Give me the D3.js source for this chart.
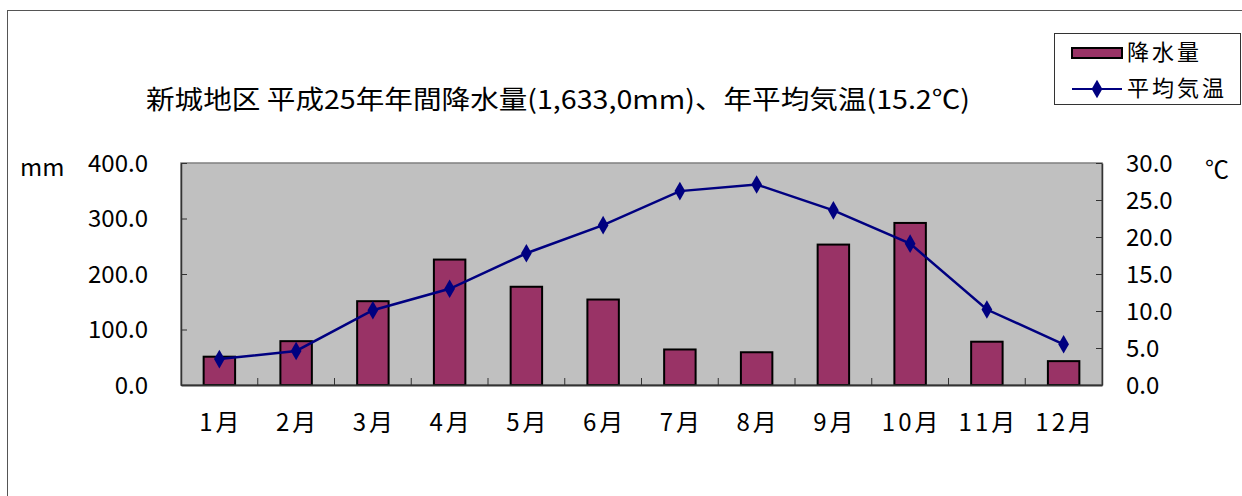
<!DOCTYPE html>
<html>
<head>
<meta charset="utf-8">
<script src="https://cdn.jsdelivr.net/npm/d3@7"></script>
<style>
  body { margin: 0; background: #fff; }
  text { font-family: "Noto Sans CJK JP", "Noto Sans", sans-serif; fill: #000; }
</style>
</head>
<body>
<div id="container"></div>
<script>
// 月
var months = ["1月","2月","3月","4月","5月","6月","7月","8月","9月","10月","11月","12月"];
// 降水量 (mm)
var rain = [51, 79, 151, 226, 177, 154, 64, 59, 253, 292, 78, 43];
// 平均気温 (℃)
var temp = [3.5, 4.6, 10.1, 13.0, 17.8, 21.6, 26.2, 27.1, 23.6, 19.1, 10.2, 5.5];
var rainTicks = [0, 100, 200, 300, 400];
var tempTicks = [0, 5, 10, 15, 20, 25, 30];
var title = "新城地区 平成25年年間降水量(1,633,0mm)、年平均気温(15.2℃)";

var W = 1242, H = 496;
var svg = d3.select("div#container").append("svg").attr("width", W).attr("height", H);

// 外枠
svg.append("rect")
   .attr("x", 7.5).attr("y", 10.5)
   .attr("width", W).attr("height", H)
   .attr("fill", "#fff").attr("stroke", "#555").attr("stroke-width", 1);

var plot = {left: 181, top: 163, right: 1102, bottom: 385};

var x = d3.scaleBand().domain(months).range([plot.left, plot.right]).paddingInner(0).paddingOuter(0);
var yL = d3.scaleLinear().domain([0, 400]).range([plot.bottom, plot.top]);
var yR = d3.scaleLinear().domain([0, 30]).range([plot.bottom, plot.top]);

// 背景
svg.append("rect")
   .attr("x", plot.left).attr("y", plot.top)
   .attr("width", plot.right - plot.left).attr("height", plot.bottom - plot.top)
   .attr("fill", "#c0c0c0")
   .attr("stroke", "#808080").attr("stroke-width", 1.5);

// 棒グラフ
var bw = x.bandwidth() * 0.41;
svg.selectAll("rect.bar").data(rain).enter().append("rect")
   .attr("class", "bar")
   .attr("x", function(d, i) { return x(months[i]) + x.bandwidth() / 2 - bw / 2; })
   .attr("y", function(d) { return yL(d); })
   .attr("width", bw)
   .attr("height", function(d) { return yL(0) - yL(d); })
   .attr("fill", "#993366")
   .attr("stroke", "#000").attr("stroke-width", 2);

// 左軸
var gL = svg.append("g").attr("transform", "translate(" + plot.left + ",0)")
   .call(d3.axisLeft(yL).tickValues(rainTicks).tickSizeInner(-6).tickSizeOuter(0).tickPadding(33)
         .tickFormat(d3.format(".1f")));
gL.select(".domain").attr("stroke", "#333").attr("stroke-width", 1.5);
gL.selectAll(".tick line").attr("stroke", "#333");
gL.selectAll(".tick text").style("font-size", "24px").attr("dy", "0.35em");

// 右軸
var gR = svg.append("g").attr("transform", "translate(" + plot.right + ",0)")
   .call(d3.axisRight(yR).tickValues(tempTicks).tickSizeInner(-6).tickSizeOuter(0).tickPadding(24)
         .tickFormat(d3.format(".1f")));
gR.select(".domain").attr("stroke", "#333").attr("stroke-width", 1.5);
gR.selectAll(".tick line").attr("stroke", "#333");
gR.selectAll(".tick text").style("font-size", "24px").attr("dy", "0.35em");

// 下軸
var gB = svg.append("g").attr("transform", "translate(0," + plot.bottom + ")")
   .call(d3.axisBottom(x).tickSize(0).tickPadding(38));
gB.select(".domain").attr("stroke", "#333").attr("stroke-width", 2);
gB.selectAll(".tick text").style("font-size", "24px").style("letter-spacing", "3px")
   .attr("dx", "1.5px").attr("dy", "0.35em");
// 区切り目盛
svg.selectAll("line.sep").data(months.slice(1)).enter().append("line")
   .attr("class", "sep")
   .attr("x1", function(d) { return x(d); }).attr("x2", function(d) { return x(d); })
   .attr("y1", plot.bottom).attr("y2", plot.bottom - 7)
   .attr("stroke", "#333").attr("stroke-width", 1);

// 折れ線
var line = d3.line()
   .x(function(d, i) { return x(months[i]) + x.bandwidth() / 2; })
   .y(function(d) { return yR(d); });
svg.append("path").datum(temp)
   .attr("d", line).attr("fill", "none")
   .attr("stroke", "#000080").attr("stroke-width", 2.5);
var diamond = d3.symbol().type(d3.symbolDiamond).size(100);
svg.selectAll("path.pt").data(temp).enter().append("path")
   .attr("class", "pt")
   .attr("d", diamond)
   .attr("transform", function(d, i) { return "translate(" + (x(months[i]) + x.bandwidth() / 2) + "," + yR(d) + ")"; })
   .attr("fill", "#000080");

// 単位
svg.append("text").attr("x", 20).attr("y", 168).attr("dy", "0.35em").style("font-size", "24px").text("mm");
svg.append("text").attr("x", 1205).attr("y", 170).attr("dy", "0.35em").style("font-size", "24px").text("℃");

// タイトル
svg.append("text").attr("x", 146).attr("y", 100).attr("dy", "0.35em")
   .attr("textLength", 824).attr("lengthAdjust", "spacingAndGlyphs")
   .style("font-size", "26px").text(title);

// 凡例
var lg = svg.append("g");
lg.append("rect").attr("x", 1054.5).attr("y", 33.5).attr("width", 186).attr("height", 71)
  .attr("fill", "#fff").attr("stroke", "#333").attr("stroke-width", 1);
lg.append("rect").attr("x", 1072).attr("y", 48).attr("width", 50).attr("height", 10)
  .attr("fill", "#993366").attr("stroke", "#000").attr("stroke-width", 2);
lg.append("text").attr("x", 1127).attr("y", 52).attr("dy", "0.35em").style("font-size", "22px")
  .style("letter-spacing", "3px").text("降水量");
lg.append("line").attr("x1", 1072).attr("x2", 1122).attr("y1", 89).attr("y2", 89)
  .attr("stroke", "#000080").attr("stroke-width", 2);
lg.append("path").attr("d", diamond).attr("transform", "translate(1097,89)").attr("fill", "#000080");
lg.append("text").attr("x", 1127).attr("y", 88).attr("dy", "0.35em").style("font-size", "22px")
  .style("letter-spacing", "3px").text("平均気温");
</script>
</body>
</html>
